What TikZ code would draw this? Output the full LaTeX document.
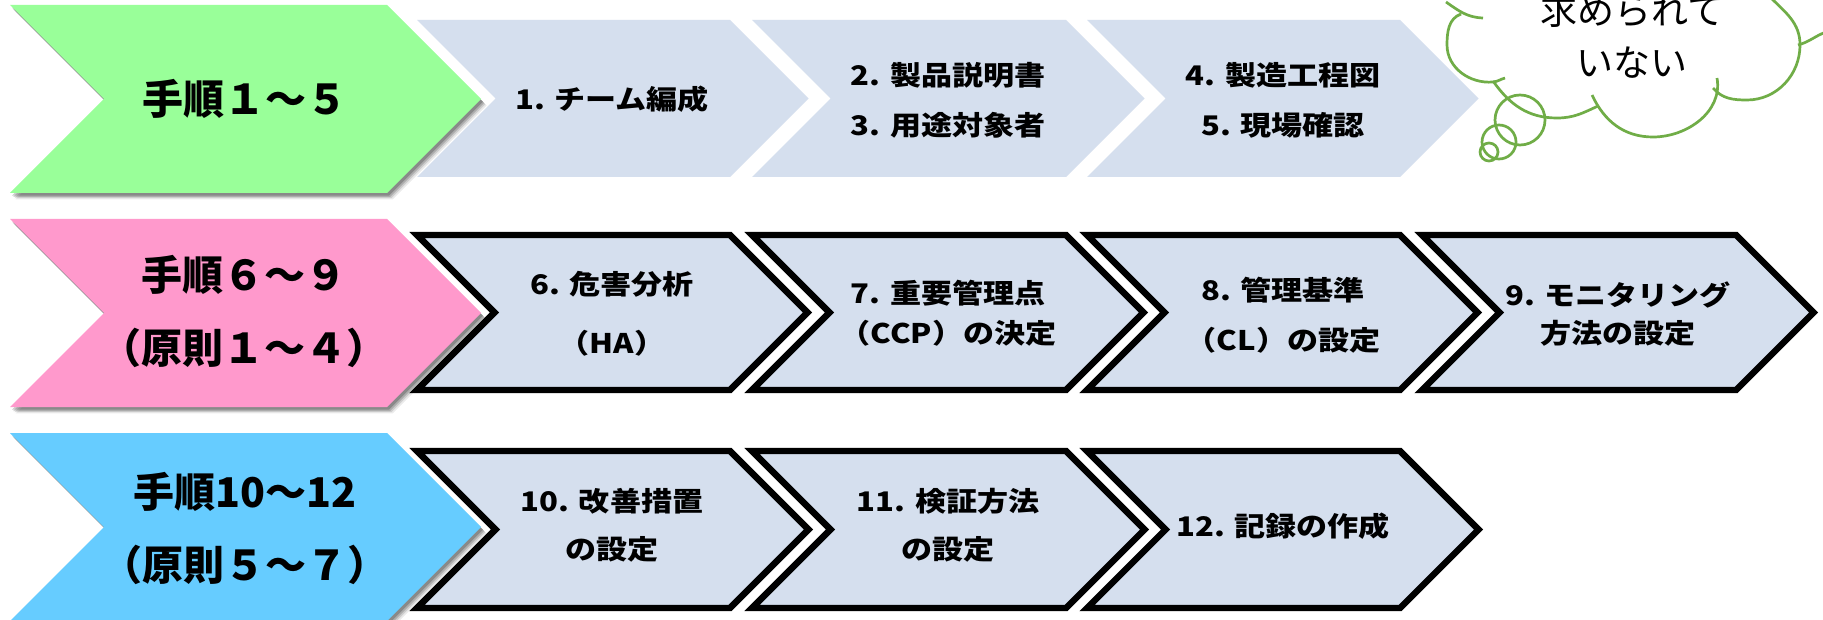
\documentclass[tikz,border=0pt]{standalone}
\usepackage{fontspec}
\newfontfamily\jpfont{Noto Sans CJK JP}
\newfontfamily\jpwide{Noto Sans CJK JP}[FakeStretch=1.15]
\usetikzlibrary{shadows}
\definecolor{grn}{HTML}{99FF99}
\definecolor{pnk}{HTML}{FF99CC}
\definecolor{blu}{HTML}{66CCFF}
\definecolor{lite}{HTML}{D5DFEE}
\definecolor{cloudg}{HTML}{70AD47}
% #1 style, #2 left, #3 top, #4 bottom, #5 body width
\newcommand{\chevshape}[5]{%
  \path[#1] (#2,#3) -- ({#2+#5},#3) -- ({#2+#5+(#4-#3)/2},{(#3+#4)/2}) -- ({#2+#5},#4)
    -- (#2,#4) -- ({#2+(#4-#3)/2},{(#3+#4)/2}) -- cycle;}
\begin{document}
\begin{tikzpicture}[x=0.5pt,y=-0.5pt,
  bigchev/.style={fill=#1,
    drop shadow={shadow xshift=2.8pt, shadow yshift=-3.2pt, opacity=0.08, fill=black},
    drop shadow={shadow xshift=2.2pt, shadow yshift=-2.6pt, opacity=0.12, fill=black},
    drop shadow={shadow xshift=1.6pt, shadow yshift=-2pt, opacity=0.16, fill=black},
    drop shadow={shadow xshift=1pt, shadow yshift=-1.3pt, opacity=0.2, fill=black}},
  litechev/.style={fill=lite},
  boxchev/.style={fill=lite, draw=black, line width=3.2pt, line join=miter},
  bigtxt/.style={font=\jpfont\bfseries\fontsize{20.5pt}{36.5pt}\selectfont, align=center, inner sep=0pt},
  smalltxt/.style={font=\jpwide\bfseries\fontsize{13.5pt}{#1}\selectfont, align=center, inner sep=0pt},
  smalltxt/.default=25pt,
  cloudtxt/.style={font=\jpfont\fontsize{18.5pt}{26pt}\selectfont, align=center, inner sep=0pt},
  cloudline/.style={draw=cloudg, line width=1.35pt}]
\useasboundingbox (0,0) rectangle (1823,620);
\fill[white] (0,0) rectangle (1823,620);
% ---------- row 1 ----------
\chevshape{litechev}{417}{20}{177}{313}
\chevshape{litechev}{752}{20}{177}{314}
\chevshape{litechev}{1087}{20}{177}{313}
\chevshape{bigchev=grn}{10}{5}{193}{377}
\node[bigtxt] (g) at (245,99) {手順１～５};
\node[smalltxt] (s1) at (612,99) {1. チーム編成};
\node[smalltxt] (s2) at (948,100) {2. 製品説明書\\3. 用途対象者};
\node[smalltxt] (s3) at (1283,100) {4. 製造工程図\\5. 現場確認};
% ---------- row 2 ----------
\chevshape{boxchev}{417}{235}{390}{313}
\chevshape{boxchev}{752}{235}{390}{314}
\chevshape{boxchev}{1087}{235}{390}{313}
\chevshape{boxchev}{1422}{235}{390}{314}
\chevshape{bigchev=pnk}{10}{219}{407}{377}
\node[bigtxt] (p) at (244,312) {手順６～９\\（原則１～４）};
\node[smalltxt=29.5pt] (s6) at (612,314) {6. 危害分析\\（HA）};
\node[smalltxt=20pt] (s7) at (948,313) {7. 重要管理点\\（CCP）の決定};
\node[smalltxt=25pt] (s8) at (1283,315) {8. 管理基準\\（CL）の設定};
\node[smalltxt=19pt] (s9) at (1618,314) {9. モニタリング\\方法の設定};
% ---------- row 3 ----------
\chevshape{boxchev}{417}{451}{608}{313}
\chevshape{boxchev}{752}{451}{608}{314}
\chevshape{boxchev}{1087}{451}{608}{313}
\chevshape{bigchev=blu}{10}{433}{621}{377}
\node[bigtxt] (b) at (245,528) {手順10～12\\（原則５～７）};
\node[smalltxt=24pt] (s10) at (612,525) {10. 改善措置\\の設定};
\node[smalltxt=24pt] (s11) at (948,525) {11. 検証方法\\の設定};
\node[smalltxt] (s12) at (1283,526) {12. 記録の作成};
% ---------- thought cloud ----------
\draw[cloudline] (1446,2) to[out=-35,in=178] (1483,18);
\draw[cloudline] (1461,14) to[out=200,in=90] (1447,45) to[out=-90,in=185] (1493,82) to[out=5,in=195] (1505,78);
\draw[cloudline] (1493,81) to[out=-55,in=180] (1557,118) to[out=0,in=205] (1598,106);
\draw[cloudline] (1592,95) to[out=-65,in=180] (1653,137) to[out=0,in=-80] (1717,78);
\draw[cloudline] (1713,88) to[out=-50,in=180] (1747,100) to[out=0,in=-90] (1800,45) to[out=90,in=-45] (1770,-3);
\draw[cloudline] (1798,45) to[out=15,in=200] (1826,32);
\draw[cloudline] (1520,120) circle[radius=25];
\draw[cloudline] (1499,142) circle[radius=17];
\draw[cloudline] (1489,152) circle[radius=9];
\node[cloudtxt] (c) at (1632,36) {求められて\\いない};
\end{tikzpicture}
\end{document}
